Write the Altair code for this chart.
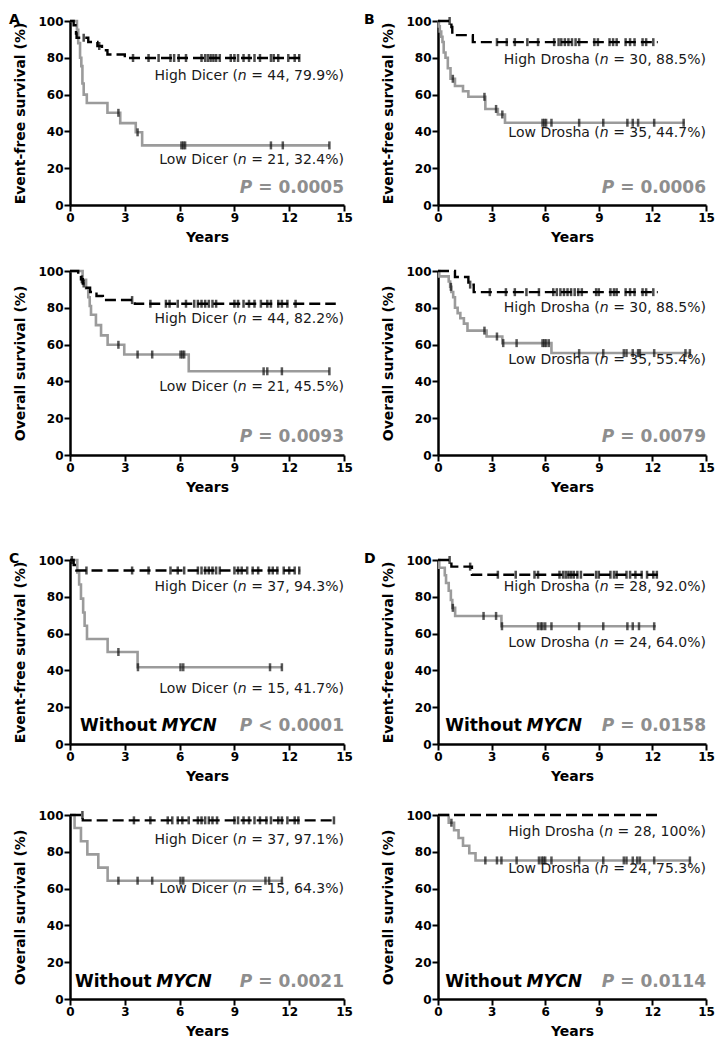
import altair as alt
import pandas as pd

# ------------------------------------------------------------------ data
# Panel A, event-free survival (Dicer)
A_EFS_HI_T = [0.2, 0.3, 0.33, 0.36, 1.0, 1.5, 1.75, 2.05, 3.0]
A_EFS_HI_S = [97.7, 95.5, 93.2, 90.9, 88.6, 86.4, 84.1, 81.8, 79.9]
A_EFS_HI_C = [0.75, 1.6, 3.45, 4.3, 4.85, 5.5, 5.7, 5.95, 6.35, 7.2, 7.4, 7.55, 7.7, 7.85, 8.0,
              8.2, 8.8, 9.0, 9.2, 9.5, 9.8, 10.1, 10.4, 11.0, 11.15, 11.4, 11.95, 12.3, 12.55]
A_EFS_HI_END = 12.65
A_EFS_LO_T = [0.38, 0.45, 0.55, 0.62, 0.68, 0.75, 0.92, 2.05, 2.75, 3.6, 3.95]
A_EFS_LO_S = [95.2, 88.0, 80.0, 75.5, 66.0, 60.0, 55.4, 50.1, 44.5, 39.5, 32.4]
A_EFS_LO_C = [2.65, 3.7, 6.1, 6.2, 6.3, 11.0, 11.65, 14.2]
A_EFS_LO_END = 14.2

# Panel B, event-free survival (Drosha)
B_EFS_HI_T = [0.75, 0.8, 1.95]
B_EFS_HI_S = [96.7, 92.3, 88.5]
B_EFS_HI_C = [0.65, 3.3, 3.85, 4.3, 5.0, 5.6, 6.5, 6.75, 6.9, 7.1, 7.3, 7.5, 7.7, 7.9, 8.75,
              8.95, 9.6, 9.8, 10.0, 10.5, 10.75, 11.0, 11.45, 11.65, 12.05]
B_EFS_HI_END = 12.3
B_EFS_LO_T = [0.05, 0.1, 0.18, 0.25, 0.32, 0.42, 0.55, 0.7, 0.95, 1.4, 1.7, 2.65, 3.35, 3.75]
B_EFS_LO_S = [97.1, 94.3, 91.4, 88.6, 82.9, 80.0, 74.3, 68.6, 64.7, 61.8, 58.8, 52.2, 49.2, 44.7]
B_EFS_LO_C = [0.83, 2.6, 3.25, 3.6, 5.85, 5.95, 6.05, 6.35, 7.9, 9.25, 10.6, 10.9, 11.2, 12.1, 13.75]
B_EFS_LO_END = 13.8

# Panel A, overall survival (Dicer)
A_OS_HI_T = [0.45, 0.6, 0.7, 0.8, 1.1, 1.45, 1.8, 3.55]
A_OS_HI_S = [97.7, 95.5, 93.2, 90.9, 88.6, 86.4, 84.2, 82.2]
A_OS_HI_C = [0.65, 0.75, 3.4, 4.4, 5.25, 5.45, 5.9, 6.35, 6.8, 7.0, 7.2, 7.4, 7.6, 7.8, 8.0, 9.0,
             9.2, 9.5, 9.8, 10.1, 10.45, 10.8, 11.0, 11.4, 11.6, 11.9, 12.35]
A_OS_HI_END = 14.55
A_OS_LO_T = [0.69, 0.88, 1.0, 1.08, 1.15, 1.42, 1.7, 2.06, 2.97, 6.5]
A_OS_LO_S = [95.2, 90.5, 85.7, 81.0, 76.2, 70.6, 65.0, 59.9, 54.6, 45.5]
A_OS_LO_C = [2.65, 3.7, 4.5, 6.05, 6.15, 6.25, 10.6, 10.8, 11.6, 14.2]
A_OS_LO_END = 14.2

# Panel B, overall survival (Drosha)
B_OS_HI_T = [0.95, 1.7, 2.0]
B_OS_HI_S = [96.7, 92.6, 88.5]
B_OS_HI_C = [1.8, 2.9, 3.8, 4.3, 4.95, 5.65, 6.45, 6.65, 6.85, 7.05, 7.25, 7.45, 7.65, 7.85, 8.05,
             8.85, 9.0, 9.65, 9.85, 10.0, 10.5, 10.75, 11.0, 11.45, 11.65, 12.05]
B_OS_HI_END = 12.3
B_OS_LO_T = [0.07, 0.6, 0.68, 0.75, 0.85, 0.95, 1.1, 1.25, 1.45, 1.65, 2.72, 3.6, 6.35]
B_OS_LO_S = [97.1, 94.3, 91.4, 88.6, 85.7, 80.0, 77.1, 74.3, 71.4, 67.6, 64.4, 60.8, 55.4]
B_OS_LO_C = [0.72, 2.6, 3.3, 3.65, 4.4, 5.85, 5.95, 6.05, 6.2, 7.9, 9.25, 10.4, 10.55, 10.9, 11.2,
             11.3, 12.1, 13.85, 14.1]
B_OS_LO_END = 14.15

# Panel C, event-free survival without MYCN (Dicer)
C_EFS_HI_T = [0.2, 0.35]
C_EFS_HI_S = [97.3, 94.3]
C_EFS_HI_C = [0.1, 0.9, 3.4, 4.3, 5.5, 5.9, 6.25, 7.0, 7.2, 7.4, 7.6, 7.8, 8.0, 8.2, 9.0, 9.2, 9.4,
              9.7, 10.0, 10.3, 10.9, 11.1, 11.35, 11.7, 12.0, 12.3, 12.55]
C_EFS_HI_END = 12.6
C_EFS_LO_T = [0.4, 0.5, 0.6, 0.72, 0.8, 0.93, 2.06, 3.7]
C_EFS_LO_S = [93.3, 86.7, 79.0, 71.5, 64.3, 57.1, 50.0, 41.7]
C_EFS_LO_C = [2.65, 3.72, 6.05, 6.2, 10.95, 11.6]
C_EFS_LO_END = 11.6

# Panel D, event-free survival without MYCN (Drosha)
D_EFS_HI_T = [0.75, 1.9]
D_EFS_HI_S = [96.4, 92.0]
D_EFS_HI_C = [0.65, 1.8, 3.35, 4.35, 5.4, 5.6, 6.8, 7.0, 7.15, 7.3, 7.45, 7.6, 7.8, 8.0, 8.85, 9.0,
              9.65, 9.85, 10.0, 10.55, 10.75, 11.05, 11.4, 11.7, 12.05, 12.25]
D_EFS_HI_END = 12.3
D_EFS_LO_T = [0.07, 0.38, 0.45, 0.6, 0.72, 0.8, 0.96, 3.55]
D_EFS_LO_S = [95.8, 91.7, 87.5, 83.3, 78.3, 74.0, 69.6, 64.0]
D_EFS_LO_C = [0.83, 2.55, 3.25, 3.58, 5.6, 5.75, 5.85, 6.0, 6.35, 7.9, 9.25, 10.6, 10.9, 11.25, 12.1]
D_EFS_LO_END = 12.2

# Panel C, overall survival without MYCN (Dicer)
C_OS_HI_T = [0.7]
C_OS_HI_S = [97.1]
C_OS_HI_C = [0.68, 3.5, 4.4, 5.35, 5.6, 5.9, 6.15, 6.5, 7.0, 7.2, 7.4, 7.6, 7.8, 8.05, 9.0, 9.2,
             9.5, 9.8, 10.1, 10.4, 10.75, 11.0, 11.4, 11.6, 11.9, 12.3, 12.5, 14.45]
C_OS_HI_END = 14.55
C_OS_LO_T = [0.25, 0.6, 0.95, 1.55, 2.06]
C_OS_LO_S = [92.9, 85.7, 78.6, 71.4, 64.3]
C_OS_LO_C = [2.65, 3.7, 4.5, 6.05, 6.2, 10.7, 10.9, 11.6]
C_OS_LO_END = 11.6

# Panel D, overall survival without MYCN (Drosha)
D_OS_HI_T = []
D_OS_HI_S = []
D_OS_HI_C = []
D_OS_HI_END = 12.3
D_OS_LO_T = [0.6, 0.9, 1.15, 1.4, 1.75, 2.1]
D_OS_LO_S = [95.8, 91.7, 87.5, 83.3, 79.2, 75.3]
D_OS_LO_C = [0.75, 2.65, 3.3, 3.55, 4.4, 5.65, 5.8, 5.9, 6.0, 6.35, 7.9, 9.25, 10.4, 10.55, 10.9,
             11.15, 11.3, 12.1, 14.1]
D_OS_LO_END = 14.15

# legend texts: (group name, n, final survival)
A_EFS_LAB = [("High Dicer", 44, "79.9%"), ("Low Dicer", 21, "32.4%")]
B_EFS_LAB = [("High Drosha", 30, "88.5%"), ("Low Drosha", 35, "44.7%")]
A_OS_LAB = [("High Dicer", 44, "82.2%"), ("Low Dicer", 21, "45.5%")]
B_OS_LAB = [("High Drosha", 30, "88.5%"), ("Low Drosha", 35, "55.4%")]
C_EFS_LAB = [("High Dicer", 37, "94.3%"), ("Low Dicer", 15, "41.7%")]
D_EFS_LAB = [("High Drosha", 28, "92.0%"), ("Low Drosha", 24, "64.0%")]
C_OS_LAB = [("High Dicer", 37, "97.1%"), ("Low Dicer", 15, "64.3%")]
D_OS_LAB = [("High Drosha", 28, "100%"), ("Low Drosha", 24, "75.3%")]
P_VALUES = {"A_EFS": "= 0.0005", "B_EFS": "= 0.0006", "A_OS": "= 0.0093", "B_OS": "= 0.0079",
            "C_EFS": "< 0.0001", "D_EFS": "= 0.0158", "C_OS": "= 0.0021", "D_OS": "= 0.0114"}

EFS_TITLE = "Event-free survival (%)"
OS_TITLE = "Overall survival (%)"
X_TITLE = "Years"
X_TICKS = [0, 3, 6, 9, 12, 15]
Y_TICKS = [0, 20, 40, 60, 80, 100]

# ------------------------------------------------------------------ style
FONT = "DejaVu Sans"
GREY = "#9b9b9b"
PGREY = "#8e8e8e"
TXT = "#1a1a1a"
LAB_SIZE = 14
P_SIZE = 17
W_SIZE = 17
PANEL_H = 184
LW, RW = 274, 268
LETTER_OFFSET = -11.5

DIG = "0123456789"
REG_W = {" ": 0.3179, "%": 0.9502, "(": 0.3901, ")": 0.3901, ",": 0.3179, ".": 0.3179,
         "=": 0.8379, "n": 0.6338}
REG_W.update({d: 0.6362 for d in DIG})
BOLD_W = {" ": 0.3481, ".": 0.3804, "=": 0.8379, "<": 0.8379, "P": 0.7339, "W": 1.0298,
          "i": 0.3428, "t": 0.4780, "h": 0.7119, "o": 0.6870, "u": 0.7119}
BOLD_W.update({d: 0.6958 for d in DIG})


def tw(s, table, size):
    return sum(table.get(c, 0.6) for c in s) * size


XS = alt.X("t:Q", scale=alt.Scale(domain=[0, 15], nice=False),
           axis=alt.Axis(values=X_TICKS, title=X_TITLE, labelFlush=False))


def YS(title):
    return alt.Y("s:Q", scale=alt.Scale(domain=[0, 100], nice=False),
                 axis=alt.Axis(values=Y_TICKS, title=title))


def km_df(times, surv, end):
    xs = [0.0] + list(times) + [end]
    last = surv[-1] if surv else 100.0
    ys = [100.0] + list(surv) + [last]
    return pd.DataFrame({"t": xs, "s": ys})


def cens_df(times, surv, cens):
    out = []
    for c in cens:
        v = 100.0
        for t, s in zip(times, surv):
            if t <= c:
                v = s
        out.append(v)
    return pd.DataFrame({"t": list(cens), "s": out})


def txt(x, y, text, align, dx, size, weight, style, color, ytitle):
    df = pd.DataFrame({"t": [x], "s": [y]})
    return alt.Chart(df).mark_text(
        text=text, align=align, baseline="middle", dx=dx, font=FONT, fontSize=size,
        fontWeight=weight, fontStyle=style, color=color
    ).encode(x=XS, y=YS(ytitle))


def legend_label(y, name, n, pct, ytitle):
    suffix = f" = {n}, {pct})"
    w_suf = tw(suffix, REG_W, LAB_SIZE)
    w_n = tw("n", REG_W, LAB_SIZE)
    return [
        txt(15, y, suffix, "right", 0, LAB_SIZE, "normal", "normal", TXT, ytitle),
        txt(15, y, "n", "right", -w_suf, LAB_SIZE, "normal", "italic", TXT, ytitle),
        txt(15, y, f"{name} (", "right", -(w_suf + w_n), LAB_SIZE, "normal", "normal", TXT, ytitle),
    ]


def p_label(y, ptxt, ytitle):
    rest = " " + ptxt
    w = tw(rest, BOLD_W, P_SIZE)
    return [
        txt(15, y, rest, "right", 0, P_SIZE, "bold", "normal", PGREY, ytitle),
        txt(15, y, "P", "right", -w, P_SIZE, "bold", "italic", PGREY, ytitle),
    ]


def without_label(x, y, ytitle):
    w = tw("Without ", BOLD_W, W_SIZE)
    return [
        txt(x, y, "Without ", "left", 0, W_SIZE, "bold", "normal", "black", ytitle),
        txt(x, y, "MYCN", "left", w, W_SIZE, "bold", "italic", "black", ytitle),
    ]


def panel(hi, lo, labels, ptxt, ytitle, pos, width, letter, letter_dx, without=None):
    hi_t, hi_s, hi_c, hi_end = hi
    lo_t, lo_s, lo_c, lo_end = lo
    layers = [
        alt.Chart(km_df(lo_t, lo_s, lo_end)).mark_line(
            interpolate="step-after", color=GREY, strokeWidth=2.6
        ).encode(x=XS, y=YS(ytitle)),
        alt.Chart(km_df(hi_t, hi_s, hi_end)).mark_line(
            interpolate="step-after", color="black", strokeWidth=2.4, strokeDash=[11, 5]
        ).encode(x=XS, y=YS(ytitle)),
    ]
    if hi_c:
        layers.append(alt.Chart(cens_df(hi_t, hi_s, hi_c)).mark_tick(
            orient="vertical", size=8, thickness=2.5, color="black"
        ).encode(x=XS, y=YS(ytitle)))
    if lo_c:
        layers.append(alt.Chart(cens_df(lo_t, lo_s, lo_c)).mark_tick(
            orient="vertical", size=8, thickness=2.5, color="#111111"
        ).encode(x=XS, y=YS(ytitle)))
    (n1, nn1, p1), (n2, nn2, p2) = labels
    layers += legend_label(pos["hi"], n1, nn1, p1, ytitle)
    layers += legend_label(pos["lo"], n2, nn2, p2, ytitle)
    layers += p_label(pos["p"], ptxt, ytitle)
    if without is not None:
        layers += without_label(without[0], without[1], ytitle)
    if letter.strip():
        title = alt.TitleParams(letter, anchor="start", frame="bounds", fontSize=14,
                                font=FONT, fontWeight="bold", offset=LETTER_OFFSET,
                                dx=letter_dx, color="black")
    else:
        title = alt.TitleParams(" ", anchor="start", frame="bounds", fontSize=1,
                                font=FONT, offset=-4, dx=letter_dx)
    return alt.layer(*layers).properties(width=width, height=PANEL_H, title=title)


pA1 = panel((A_EFS_HI_T, A_EFS_HI_S, A_EFS_HI_C, A_EFS_HI_END),
            (A_EFS_LO_T, A_EFS_LO_S, A_EFS_LO_C, A_EFS_LO_END),
            A_EFS_LAB, P_VALUES["A_EFS"], EFS_TITLE,
            {"hi": 70, "lo": 24.5, "p": 9.5}, LW, "A", -5)
pB1 = panel((B_EFS_HI_T, B_EFS_HI_S, B_EFS_HI_C, B_EFS_HI_END),
            (B_EFS_LO_T, B_EFS_LO_S, B_EFS_LO_C, B_EFS_LO_END),
            B_EFS_LAB, P_VALUES["B_EFS"], EFS_TITLE,
            {"hi": 79, "lo": 39, "p": 9.5}, RW, "B", -18)
pA2 = panel((A_OS_HI_T, A_OS_HI_S, A_OS_HI_C, A_OS_HI_END),
            (A_OS_LO_T, A_OS_LO_S, A_OS_LO_C, A_OS_LO_END),
            A_OS_LAB, P_VALUES["A_OS"], OS_TITLE,
            {"hi": 74, "lo": 37, "p": 10}, LW, " ", -5)
pB2 = panel((B_OS_HI_T, B_OS_HI_S, B_OS_HI_C, B_OS_HI_END),
            (B_OS_LO_T, B_OS_LO_S, B_OS_LO_C, B_OS_LO_END),
            B_OS_LAB, P_VALUES["B_OS"], OS_TITLE,
            {"hi": 80, "lo": 51.5, "p": 10}, RW, " ", -18)
pC1 = panel((C_EFS_HI_T, C_EFS_HI_S, C_EFS_HI_C, C_EFS_HI_END),
            (C_EFS_LO_T, C_EFS_LO_S, C_EFS_LO_C, C_EFS_LO_END),
            C_EFS_LAB, P_VALUES["C_EFS"], EFS_TITLE,
            {"hi": 85.5, "lo": 30, "p": 10}, LW, "C", -5, without=(0.55, 10))
pD1 = panel((D_EFS_HI_T, D_EFS_HI_S, D_EFS_HI_C, D_EFS_HI_END),
            (D_EFS_LO_T, D_EFS_LO_S, D_EFS_LO_C, D_EFS_LO_END),
            D_EFS_LAB, P_VALUES["D_EFS"], EFS_TITLE,
            {"hi": 85.5, "lo": 55, "p": 10}, RW, "D", -18, without=(0.4, 10))
pC2 = panel((C_OS_HI_T, C_OS_HI_S, C_OS_HI_C, C_OS_HI_END),
            (C_OS_LO_T, C_OS_LO_S, C_OS_LO_C, C_OS_LO_END),
            C_OS_LAB, P_VALUES["C_OS"], OS_TITLE,
            {"hi": 86.5, "lo": 60, "p": 9.5}, LW, " ", -5, without=(0.27, 9.5))
pD2 = panel((D_OS_HI_T, D_OS_HI_S, D_OS_HI_C, D_OS_HI_END),
            (D_OS_LO_T, D_OS_LO_S, D_OS_LO_C, D_OS_LO_END),
            D_OS_LAB, P_VALUES["D_OS"], OS_TITLE,
            {"hi": 91, "lo": 70.5, "p": 9.5}, RW, " ", -18, without=(0.4, 9.5))

r1 = alt.hconcat(pA1, pB1, spacing=10)
r2 = alt.hconcat(pA2, pB2, spacing=10)
r3 = alt.hconcat(pC1, pD1, spacing=10)
r4 = alt.hconcat(pC2, pD2, spacing=10)
top = alt.vconcat(r1, r2, spacing=21)
bottom = alt.vconcat(r3, r4, spacing=26)

chart = alt.vconcat(top, bottom, spacing=57).properties(
    padding={"left": 0, "top": 4, "right": 0, "bottom": 0}
).configure_view(stroke=None).configure_axis(
    domainColor="black", domainWidth=2.5, tickColor="black", tickWidth=2, tickSize=6,
    labelFont=FONT, labelFontSize=12, labelFontWeight="bold", labelColor="black",
    labelPadding=1, titleFont=FONT, titleFontSize=14, titleFontWeight="bold",
    titleColor="black", grid=False
).configure_axisX(titlePadding=7).configure_axisY(titlePadding=10)

chart.save("out.html", embed_options={"renderer": "svg", "actions": False})
